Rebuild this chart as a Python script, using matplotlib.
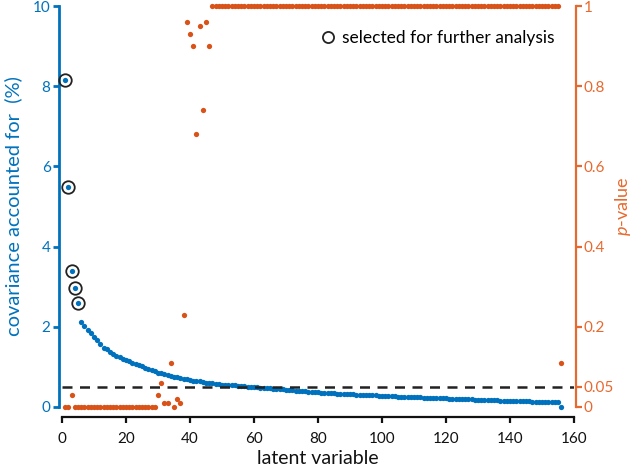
import numpy as np
import matplotlib
matplotlib.use("Agg")
import matplotlib.pyplot as plt
from matplotlib.lines import Line2D

plt.rcParams['font.family'] = ['Lato', 'DejaVu Sans']
plt.rcParams['mathtext.fontset'] = 'custom'
plt.rcParams['mathtext.rm'] = 'Lato'
plt.rcParams['mathtext.it'] = 'Lato:italic'

BLUE = '#0072BD'
ORANGE = '#D95319'
ORANGE_AX = '#E8692E'

latent = np.arange(1, 157)

# covariance accounted for (%) per latent variable
covariance = [
    8.15, 5.48, 3.40, 2.98, 2.59, 2.13, 2.02, 1.93, 1.85, 1.74,
    1.66, 1.58, 1.47, 1.44, 1.38, 1.33, 1.28, 1.24, 1.20, 1.17,
    1.14, 1.10, 1.07, 1.04, 1.01, 0.98, 0.95, 0.92, 0.89, 0.86,
    0.84, 0.82, 0.80, 0.78, 0.76, 0.74, 0.73, 0.71, 0.70, 0.68,
    0.66, 0.65, 0.64, 0.63, 0.61, 0.60, 0.59, 0.58, 0.57, 0.56,
    0.555, 0.55, 0.545, 0.54, 0.53, 0.525, 0.52, 0.51, 0.505, 0.50,
    0.49, 0.485, 0.48, 0.47, 0.465, 0.46, 0.45, 0.445, 0.44, 0.43,
    0.425, 0.415, 0.405, 0.40, 0.395, 0.39, 0.385, 0.38, 0.37, 0.365,
    0.36, 0.355, 0.35, 0.345, 0.34, 0.335, 0.33, 0.325, 0.32, 0.32,
    0.315, 0.31, 0.305, 0.30, 0.30, 0.295, 0.29, 0.29, 0.285, 0.28,
    0.275, 0.27, 0.27, 0.265, 0.26, 0.26, 0.255, 0.25, 0.25, 0.245,
    0.24, 0.24, 0.235, 0.23, 0.23, 0.225, 0.225, 0.22, 0.215, 0.215,
    0.21, 0.21, 0.205, 0.20, 0.20, 0.195, 0.19, 0.19, 0.185, 0.18,
    0.18, 0.175, 0.175, 0.17, 0.165, 0.165, 0.16, 0.16, 0.155, 0.155,
    0.15, 0.15, 0.145, 0.145, 0.14, 0.14, 0.135, 0.135, 0.13, 0.13,
    0.125, 0.125, 0.12, 0.12, 0.115, 0.01,
]

# permutation p-values per latent variable
p_values = (
    [0.0, 0.0, 0.03] + [0.0] * 26
    + [0.03, 0.06, 0.01, 0.01, 0.11, 0.0, 0.02, 0.01, 0.23]
    + [0.96, 0.93, 0.90, 0.68, 0.95, 0.74, 0.96, 0.90]
    + [1.0] * 109
    + [0.11]
)

selected = [1, 2, 3, 4, 5]
alpha = 0.05

p_ticks = [0, 0.05, 0.2, 0.4, 0.6, 0.8, 1]
p_ticklabels = ['0', '0.05', '0.2', '0.4', '0.6', '0.8', '1']

covariance = np.asarray(covariance)
p_values = np.asarray(p_values)

fig = plt.figure(figsize=(6.33, 4.68), dpi=100)
ax = fig.add_axes([62 / 633, 61 / 468, 512 / 633, 401 / 468])
ax2 = ax.twinx()

ax.plot(latent, covariance, 'o', color=BLUE, ms=3.8, mec='none', clip_on=False, zorder=3)
sel = np.isin(latent, selected)
ax.plot(latent[sel], covariance[sel], 'o', mfc='none', mec='#222222', mew=1.3, ms=9,
        clip_on=False, zorder=4)

ax2.plot(latent, p_values, 'o', color=ORANGE, ms=3.8, mec='none', clip_on=False, zorder=3)
ax2.axhline(alpha, color='#222222', lw=1.8, ls=(0, (4, 3)), zorder=2)

ax.set_xlim(0, 160)
ax.set_ylim(0, 10)
ax2.set_ylim(0, 1)

ax.set_xticks(np.arange(0, 161, 20))
ax.set_yticks(np.arange(0, 11, 2))
ax2.set_yticks(p_ticks)
ax2.set_yticklabels(p_ticklabels)

for a in (ax, ax2):
    a.spines['top'].set_visible(False)
ax2.spines['left'].set_visible(False)
ax2.spines['bottom'].set_visible(False)
ax.spines['right'].set_visible(False)

ax.spines['left'].set_position(('outward', 2.2))
ax.spines['left'].set_color(BLUE)
ax.spines['left'].set_linewidth(2.0)
ax.spines['bottom'].set_position(('outward', 7.2))
ax.spines['bottom'].set_linewidth(1.6)
ax.spines['bottom'].set_color('#111111')
ax2.spines['right'].set_position(('outward', 1.5))
ax2.spines['right'].set_color(ORANGE_AX)
ax2.spines['right'].set_linewidth(1.6)

ax.tick_params(axis='y', colors=BLUE, labelsize=11, length=4, width=2.0, pad=2)
ax.tick_params(axis='x', colors='#111111', labelsize=11, length=4, width=1.6, pad=7)
ax2.tick_params(axis='y', colors=ORANGE_AX, labelsize=11, length=4, width=1.6, pad=1.5)

ax.set_xlabel('latent variable', fontsize=14, color='#111111', labelpad=3)
ax.set_ylabel('covariance accounted for  (%)', fontsize=14.5, color=BLUE, labelpad=8)
ax2.set_ylabel('$p$-value', fontsize=13, color=ORANGE_AX, rotation=90)
ax2.yaxis.set_label_coords((613 - 62) / 512, 0.5)

handle = Line2D([], [], marker='o', ls='none', mfc='none', mec='#222222', mew=1.3, ms=8)
ax.legend([handle], ['selected for further analysis'], loc='center right',
          bbox_to_anchor=(0.962, 0.92), frameon=False, fontsize=12.5,
          handletextpad=0.3, borderpad=0, borderaxespad=0, handlelength=1.0)

fig.savefig('out.png', dpi=100)
